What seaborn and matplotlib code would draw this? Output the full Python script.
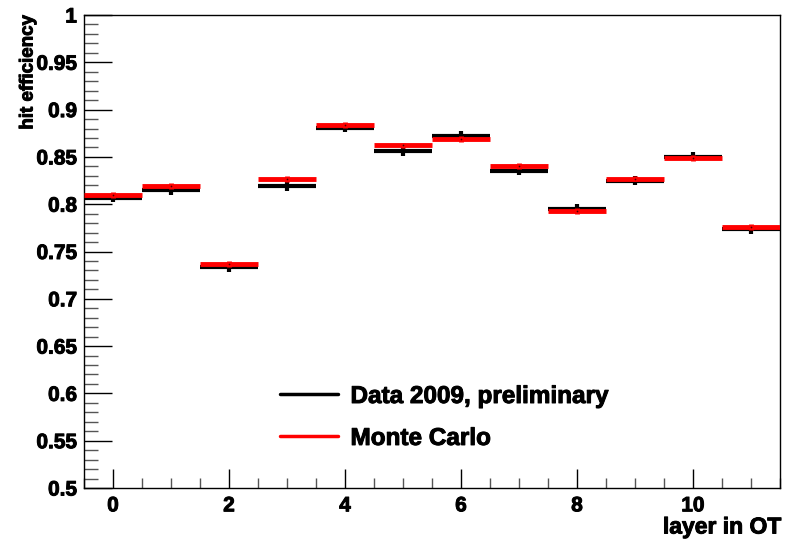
import numpy as np
import pandas as pd
import matplotlib
matplotlib.use("Agg")
import matplotlib.pyplot as plt
from matplotlib.ticker import MultipleLocator, FuncFormatter
from matplotlib.lines import Line2D
import matplotlib.patheffects as pe
import seaborn as sns

layers = [0, 1, 2, 3, 4, 5, 6, 7, 8, 9, 10, 11]
data_eff = [0.807, 0.815, 0.7333, 0.8192, 0.8809, 0.8562, 0.8721, 0.8354, 0.7949, 0.8248, 0.8502, 0.7735]
data_err = [0.005, 0.005, 0.005, 0.005, 0.005, 0.005, 0.005, 0.005, 0.005, 0.005, 0.005, 0.005]
mc_eff = [0.8100, 0.8192, 0.7371, 0.8263, 0.8834, 0.8622, 0.8689, 0.8404, 0.7928, 0.8270, 0.8485, 0.7759]
mc_err = [0.003, 0.003, 0.003, 0.003, 0.003, 0.003, 0.003, 0.003, 0.003, 0.003, 0.003, 0.003]
legend_labels = ["Data 2009, preliminary", "Monte Carlo"]

sns.set_style("ticks")
plt.rcParams['font.family'] = ['Liberation Sans', 'DejaVu Sans']
plt.rcParams['font.weight'] = 'bold'
for k in ['text.color', 'axes.labelcolor', 'xtick.color', 'ytick.color']:
    plt.rcParams[k] = 'black'

heavy = [pe.withStroke(linewidth=0.7, foreground='black')]

df = pd.DataFrame({"layer": layers, "data": data_eff, "derr": data_err,
                   "mc": mc_eff, "merr": mc_err})

fig = plt.figure(figsize=(7.92, 5.39), dpi=100)
ax = fig.add_axes([84/792, 1-488/539, (780-84)/792, (488-15)/539])

ax.errorbar(df["layer"], df["data"], xerr=0.5, yerr=df["derr"], fmt='none',
            ecolor='black', elinewidth=3, capsize=0, zorder=2)
ax.errorbar(df["layer"], df["mc"], xerr=0.5, yerr=df["merr"], fmt='none',
            ecolor='#ff0000', elinewidth=3.5, capsize=0, zorder=3)
sns.scatterplot(data=df, x="layer", y="mc", ax=ax, color='#400000', marker='.',
                s=6, linewidth=0, zorder=4, legend=False)

ax.set_xlim(-0.5, 11.5)
ax.set_ylim(0.5, 1.0)
ax.xaxis.set_major_locator(MultipleLocator(2))
ax.xaxis.set_minor_locator(MultipleLocator(0.5))
ax.yaxis.set_major_locator(MultipleLocator(0.05))
ax.yaxis.set_minor_locator(MultipleLocator(0.01))
ax.yaxis.set_major_formatter(FuncFormatter(lambda v, p: ('%g' % round(v, 2))))
ax.xaxis.set_major_formatter(FuncFormatter(lambda v, p: ('%g' % v)))

ax.tick_params(axis='both', which='both', direction='in', top=False, right=False,
               labelsize=15, colors='black')
ax.tick_params(axis='y', which='major', length=20, width=1, pad=5)
ax.tick_params(axis='y', which='minor', length=10, width=1, color='#555555')
ax.tick_params(axis='x', which='major', length=14, width=1, pad=6)
ax.tick_params(axis='x', which='minor', length=7, width=1, color='#555555')
for lab in ax.get_xticklabels() + ax.get_yticklabels():
    lab.set_fontweight('bold')
    lab.set_path_effects(heavy)
for s in ax.spines.values():
    s.set_linewidth(1)
    s.set_color('black')
    s.set_visible(True)
ax.set_xlabel("")
ax.set_ylabel("")

fig.text(781/792, 1-527/539, "layer in OT", ha='right', va='center',
         fontsize=16.5, fontweight='bold', path_effects=heavy)
fig.text(28/792, 1-15/539, "hit efficiency", ha='center', va='top', rotation=90,
         fontsize=13.5, fontweight='bold', path_effects=heavy)

handles = [Line2D([0], [0], color='black', lw=2.5),
           Line2D([0], [0], color='#ff0000', lw=2.5)]
leg = ax.legend(handles, legend_labels, loc='upper left',
                bbox_to_anchor=((280-84)/696, (488-385)/473), frameon=False,
                prop={'size': 17.5, 'weight': 'bold'}, handlelength=2.4,
                labelspacing=0.78, handletextpad=0.5, borderpad=0,
                borderaxespad=0)
for t in leg.get_texts():
    t.set_path_effects(heavy)

fig.savefig("out.png", dpi=100)
